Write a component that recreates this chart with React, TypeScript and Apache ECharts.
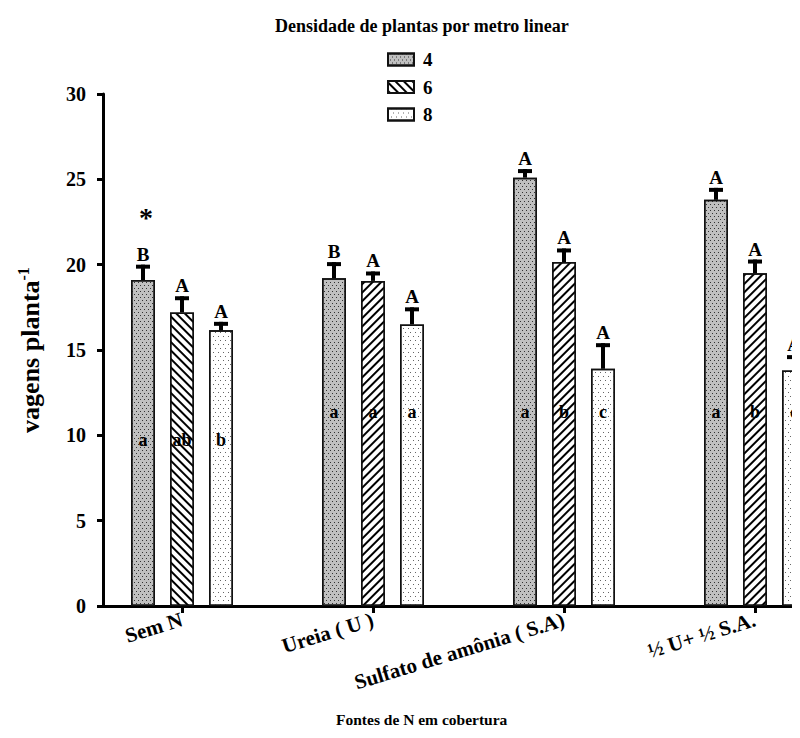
import React, { useEffect, useRef } from "react";
import * as echarts from "echarts";

const categories = ["Sem N", "Ureia ( U )", "Sulfato de amônia ( S.A)", "½ U+ ½ S.A."];
const seriesNames = ["4", "6", "8"];
const values4 = [19.1, 19.2, 25.1, 23.8];
const values6 = [17.2, 19.05, 20.15, 19.5];
const values8 = [16.15, 16.5, 13.9, 13.8];
const err4 = [0.9, 0.95, 0.5, 0.7];
const err6 = [0.95, 0.55, 0.8, 0.8];
const err8 = [0.5, 1.0, 1.5, 0.9];
const upper4 = ["B", "B", "A", "A"];
const upper6 = ["A", "A", "A", "A"];
const upper8 = ["A", "A", "A", "A"];
const lower4 = ["a", "a", "a", "a"];
const lower6 = ["ab", "a", "b", "b"];
const lower8 = ["b", "a", "c", "c"];
const lowerLetterY = [9.7, 11.35, 11.35, 11.35];
const starCategory = 0;
const starValue = 23.0;
const yTicks = [0, 5, 10, 15, 20, 25, 30];

const FONT = '"Liberation Serif", "Times New Roman", serif';
const BAR_W = 24;
const BAR_STEP = 39;

const decalDots = {
  symbol: "rect",
  symbolSize: 1,
  color: "#333",
  dashArrayX: [[1, 3], [0, 2, 1, 1]],
  dashArrayY: [1, 2],
};
const decalBack = {
  symbol: "rect",
  symbolSize: 1,
  color: "#000",
  dashArrayX: [1, 0],
  dashArrayY: [1.6, 3.6],
  rotation: Math.PI / 4,
};
const decalFwd = { ...decalBack, rotation: -Math.PI / 4 };
const decalSparse = {
  symbol: "rect",
  symbolSize: 1,
  color: "#666",
  dashArrayX: [[1, 4], [0, 3, 1, 1]],
  dashArrayY: [1, 3],
};

export default function App() {
  const ref = useRef<HTMLDivElement>(null);
  useEffect(() => {
    if (!ref.current) return;
    const chart = echarts.init(ref.current, undefined, { renderer: "svg" });

    const errSeries = (idx: number, vals: number[], errs: number[], ups: string[], lows: string[]) => ({
      type: "custom",
      xAxisIndex: 0,
      yAxisIndex: 0,
      z: 5,
      silent: true,
      data: vals.map((v, i) => [i, v, errs[i], lowerLetterY[i]]),
      renderItem: (params: any, api: any) => {
        const ci = api.value(0);
        const v = api.value(1);
        const e = api.value(2);
        const base = api.coord([ci, v]);
        const top = api.coord([ci, v + e]);
        const low = api.coord([ci, api.value(3)]);
        const x = base[0] + (idx - 1) * BAR_STEP;
        const children: any[] = [
          { type: "rect", shape: { x: x - 2, y: top[1], width: 4, height: base[1] - top[1] }, style: { fill: "#000" } },
          { type: "rect", shape: { x: x - 7, y: top[1], width: 14, height: 4 }, style: { fill: "#000" } },
          {
            type: "text",
            style: {
              text: ups[params.dataIndex], x, y: top[1] - 1, align: "center", verticalAlign: "bottom",
              fontFamily: FONT, fontWeight: "bold", fontSize: 19, fill: "#000",
            },
          },
          {
            type: "text",
            style: {
              text: lows[params.dataIndex], x, y: low[1], align: "center", verticalAlign: "middle",
              fontFamily: FONT, fontWeight: "bold", fontSize: 18, fill: "#000",
            },
          },
        ];
        if (idx === 0 && params.dataIndex === starCategory) {
          const sp = api.coord([ci, starValue]);
          children.push({
            type: "text",
            style: {
              text: "*", x: x + 3, y: sp[1] + 4, align: "center", verticalAlign: "middle",
              fontFamily: FONT, fontWeight: "bold", fontSize: 28, fill: "#000",
            },
          });
        }
        return { type: "group", children };
      },
    });

    const barSeries = (name: string, vals: number[], color: string, decals: any[]) => ({
      type: "bar",
      name,
      xAxisIndex: 0,
      yAxisIndex: 0,
      barWidth: BAR_W,
      barGap: "62.5%",
      itemStyle: { color, borderColor: "#111", borderWidth: 1.5, decal: decals[0] },
      data: vals.map((v, i) => ({ value: v, itemStyle: { decal: decals[i] } })),
    });

    chart.setOption({
      animation: false,
      backgroundColor: "#fff",
      aria: { enabled: false, decal: { show: true } },
      title: [
        {
          text: "Densidade de plantas por metro linear",
          left: 270,
          top: 12,
          textStyle: { fontFamily: FONT, fontWeight: "bold", fontSize: 18, color: "#000" },
        },
        {
          text: "Fontes de N em cobertura",
          left: 331,
          top: 706,
          textStyle: { fontFamily: FONT, fontWeight: "bold", fontSize: 15.5, color: "#000" },
        },
      ],
      legend: {
        orient: "vertical",
        left: 387,
        top: 50,
        padding: 0,
        itemWidth: 26,
        itemHeight: 12,
        itemGap: 8.5,
        icon: "rect",
        data: seriesNames,
        textStyle: { fontFamily: FONT, fontWeight: "bold", fontSize: 19, color: "#000", padding: [0, 0, 0, 4] },
      },
      grid: [
        { left: 86.5, width: 764, top: 94, bottom: 132, outerBoundsMode: "none" },
        { left: 103, right: 0, top: 94, bottom: 132, outerBoundsMode: "none" },
      ],
      xAxis: [
        {
          type: "category",
          gridIndex: 0,
          data: categories,
          axisLine: { show: false },
          axisTick: { show: true, alignWithLabel: true, length: 7, lineStyle: { color: "#000", width: 3 } },
          axisLabel: {
            rotate: 17,
            margin: 13,
            interval: 0,
            color: "#000",
            fontFamily: FONT,
            fontWeight: "bold",
            fontSize: 21,
          },
        },
        {
          type: "value",
          gridIndex: 1,
          min: 0,
          max: 1,
          axisLine: { show: true, lineStyle: { color: "#000", width: 3 } },
          axisTick: { show: false },
          axisLabel: { show: false },
          splitLine: { show: false },
        },
      ],
      yAxis: [
        { type: "value", gridIndex: 0, min: 0, max: 30, show: false },
        {
          type: "value",
          gridIndex: 1,
          min: 0,
          max: 30,
          interval: 5,
          name: "{a|vagens planta}{b|-1}",
          nameLocation: "middle",
          nameRotate: 90,
          nameGap: 58,
          nameTextStyle: {
            rich: {
              a: { fontFamily: FONT, fontWeight: "bold", fontSize: 26, color: "#000" },
              b: { fontFamily: FONT, fontWeight: "bold", fontSize: 16, color: "#000", verticalAlign: "bottom", padding: [0, 0, 14, 0] },
            },
          },
          axisLine: { show: true, lineStyle: { color: "#000", width: 3 } },
          axisTick: { show: true, length: 6, lineStyle: { color: "#000", width: 3 } },
          axisLabel: {
            margin: 17,
            color: "#000",
            fontFamily: FONT,
            fontWeight: "bold",
            fontSize: 20,
            formatter: (v: number) => (yTicks.includes(v) ? String(v) : ""),
          },
          splitLine: { show: false },
        },
      ],
      series: [
        barSeries("4", values4, "#c0c0c0", [decalDots, decalDots, decalDots, decalDots]),
        barSeries("6", values6, "#fff", [decalBack, decalFwd, decalFwd, decalFwd]),
        barSeries("8", values8, "#fff", [decalSparse, decalSparse, decalSparse, decalSparse]),
        errSeries(0, values4, err4, upper4, lower4),
        errSeries(1, values6, err6, upper6, lower6),
        errSeries(2, values8, err8, upper8, lower8),
      ],
    });
    return () => chart.dispose();
  }, []);
  return <div ref={ref} style={{ width: 800, height: 738, margin: -8 }} />;
}
